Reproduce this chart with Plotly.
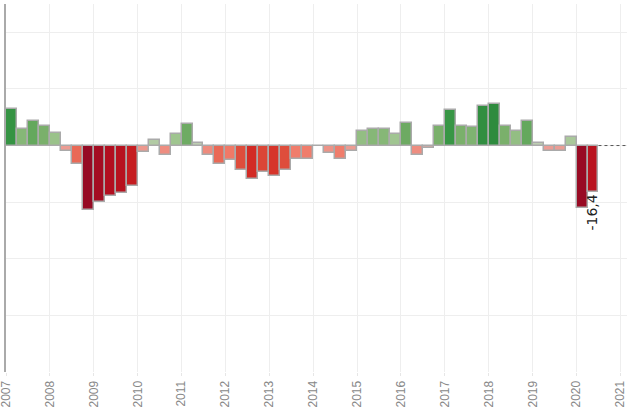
import plotly.graph_objects as go

years = list(range(2007, 2021))
quarters = [1, 2, 3, 4]
values = [
    13.0, 5.9, 8.5, 6.8,
    4.5, -2.0, -6.4, -22.7,
    -20.1, -17.7, -16.7, -14.2,
    -2.4, 2.1, -3.3, 4.1,
    7.7, 0.9, -3.5, -6.4,
    -5.0, -8.7, -11.8, -9.4,
    -10.9, -8.7, -4.7, -4.7,
    0.0, -2.8, -4.7, -2.1,
    5.0, 5.9, 5.9, 4.0,
    7.8, -3.3, -0.9, 6.8,
    12.5, 6.8, 6.4, 13.9,
    14.5, 6.8, 5.0, 8.5,
    0.9, -1.9, -1.9, 3.1,
    -22.1, -16.4,
]
label_text = "-16,4"
tick_years = list(range(2007, 2022))

periods = [(y, q) for y in years for q in quarters][:len(values)]
xs = [y + 0.25 * (q - 1) + 0.125 for y, q in periods]
texts = [""] * (len(values) - 1) + [label_text]

colorscale = [
    [0.0, "#960a24"],
    [0.12, "#b5101f"],
    [0.23, "#d12722"],
    [0.32, "#e05440"],
    [0.39, "#f07a68"],
    [0.478, "#eaa8a2"],
    [0.5, "#c8c8c0"],
    [0.522, "#bccfb0"],
    [0.59, "#a0c590"],
    [0.66, "#74ad66"],
    [0.76, "#3c9a48"],
    [0.82, "#2e8b3e"],
    [1.0, "#1e7030"],
]

fig = go.Figure()
fig.add_trace(go.Bar(
    x=xs, y=values, width=0.25,
    marker=dict(color=values, colorscale=colorscale, cmin=-22.5, cmax=22.5,
                line=dict(color="#aaaaaa", width=1.5)),
    text=texts, textposition="outside", textangle=-90, constraintext="none",
    textfont=dict(color="#222222", size=14, family="DejaVu Sans"),
    cliponaxis=False, hoverinfo="skip",
))

x_end = xs[-1] + 0.125
fig.add_shape(type="line", x0=x_end, x1=2021.2, y0=0, y1=0, xref="x", yref="y",
              line=dict(color="#555555", width=1, dash="dot"))

fig.update_layout(
    width=627, height=412,
    margin=dict(l=6, r=0, t=4, b=40, autoexpand=False),
    paper_bgcolor="white", plot_bgcolor="white",
    showlegend=False, bargap=0,
    font=dict(family="Arial", color="#888888"),
)
fig.update_xaxes(
    range=[2007, 2021.15], tickmode="array", tickvals=tick_years,
    ticktext=[str(t) for t in tick_years], tickangle=-90,
    tickfont=dict(size=12, color="#888888"),
    showgrid=True, gridcolor="#eeeeee", gridwidth=1,
    ticks="outside", ticklen=3, tickcolor="#e6e6e6",
    showline=False, zeroline=False, automargin=False,
    ticklabeloverflow="allow",
)
fig.update_yaxes(
    range=[-80, 50], dtick=20, tick0=0, showticklabels=False,
    showgrid=True, gridcolor="#eeeeee", gridwidth=1,
    showline=True, linecolor="#aaaaaa", linewidth=2,
    zeroline=False, ticks="", automargin=False,
)

fig.write_html("out.html", config={"displayModeBar": False},
               post_script="document.body.style.margin='0';document.body.style.padding='0';")
